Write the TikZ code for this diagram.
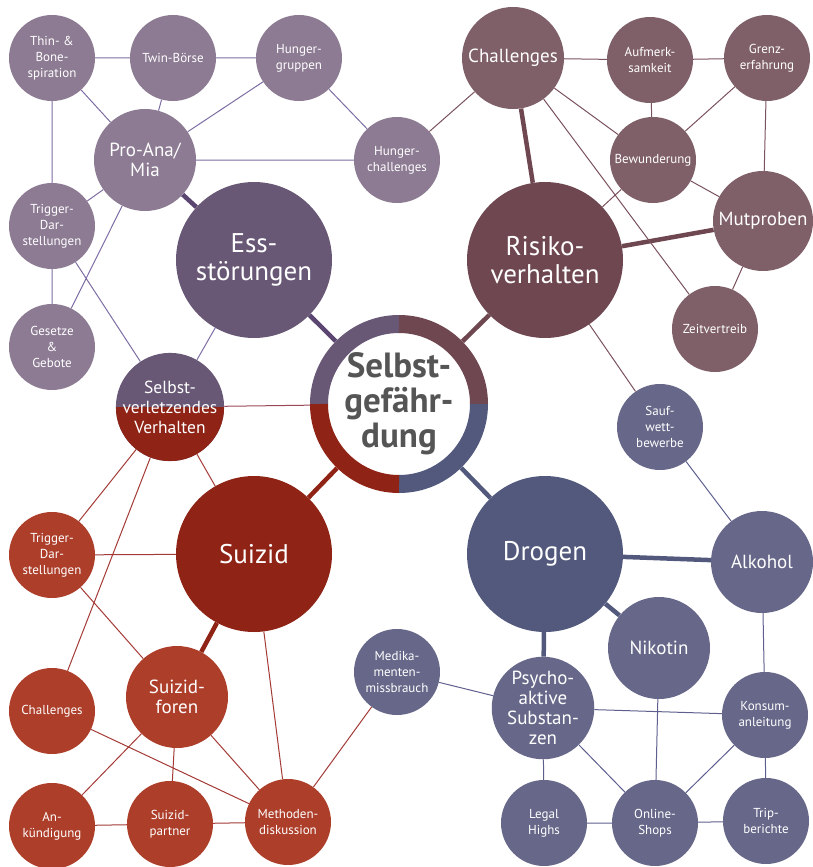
\documentclass[tikz,border=0pt]{standalone}
\usepackage{fontspec}
\setmainfont{PT Sans}
\usetikzlibrary{positioning}

\definecolor{essD}{HTML}{685876}
\definecolor{essL}{HTML}{8C7B93}
\definecolor{essE}{HTML}{7E6DA3}
\definecolor{essS}{HTML}{5A4670}
\definecolor{riskD}{HTML}{6F4750}
\definecolor{riskL}{HTML}{7F6068}
\definecolor{riskE}{HTML}{7A525C}
\definecolor{suiD}{HTML}{8E2316}
\definecolor{suiL}{HTML}{AD3E2A}
\definecolor{suiE}{HTML}{A33A36}
\definecolor{drugD}{HTML}{52597C}
\definecolor{drugL}{HTML}{676889}
\definecolor{drugE}{HTML}{5D5F8E}
\definecolor{coreT}{HTML}{555555}

\begin{document}
\begin{tikzpicture}[
  x=1pt, y=1pt,
  every node/.style={text=white, align=center, inner sep=0pt},
  hub/.style={circle, minimum size=156pt, font=\fontsize{27}{28}\selectfont},
  mid/.style={circle, minimum size=102pt, font=\fontsize{19}{20}\selectfont},
  leaf/.style={circle, minimum size=86pt, font=\fontsize{13}{16}\selectfont},
  link/.style={line width=1pt},
  spoke/.style={line width=4.5pt}
]
\useasboundingbox (0,0) rectangle (813,-867);

% centre
\node[circle, minimum size=178pt, fill=white, text=coreT,
  font=\bfseries\fontsize{35}{35}\selectfont] (core) at (399,-404) {Selbst-\\gefähr-\\dung};
\foreach \a/\c in {90/essD, 0/riskD, 270/drugD, 180/suiD}
  \draw[line width=18pt, \c] (core.center) ++(\a:80) arc[start angle=\a, delta angle=90, radius=80];

% hubs
\node[hub, fill=essD] (ess) at (254,-260) {Ess-\\störungen};
\node[hub, fill=riskD] (risk) at (545,-260) {Risiko-\\verhalten};
\node[hub, fill=suiD] (sui) at (254,-554) {Suizid};
\node[hub, fill=drugD] (drug) at (545,-554) {Drogen};

% Essstoerungen
\node[mid, fill=essL] (proana) at (145,-160) {Pro-Ana/\\Mia};
\node[leaf, fill=essL] (bone) at (52,-58) {Thin- \&\\Bone-\\spiration};
\node[leaf, fill=essL] (twin) at (173,-58) {Twin-Börse};
\node[leaf, fill=essL] (hgrp) at (299,-58) {Hunger-\\gruppen};
\node[leaf, fill=essL] (hchal) at (397,-160) {Hunger-\\challenges};
\node[leaf, fill=essL] (trigA) at (52,-226) {Trigger-\\Dar-\\stellungen};
\node[leaf, fill=essL] (law) at (52,-347) {Gesetze\\\&\\Gebote};
\node[mid, fill=essD, font=\fontsize{17.5}{20}\selectfont,
  path picture={\fill[suiD] (path picture bounding box.west) rectangle (path picture bounding box.south east);}]
  (svv) at (170,-407) {Selbst-\\verletzendes\\Verhalten};

% Risikoverhalten
\node[mid, fill=riskL] (chal) at (513,-58) {Challenges};
\node[leaf, fill=riskL] (aufm) at (650,-60) {Aufmerk-\\samkeit};
\node[leaf, fill=riskL] (grenz) at (767,-58) {Grenz-\\erfahrung};
\node[leaf, fill=riskL] (bew) at (653,-160) {Bewunderung};
\node[mid, fill=riskL, minimum size=100pt] (mut) at (763,-221) {Mutproben};
\node[leaf, fill=riskL] (zeit) at (715,-329) {Zeitvertreib};

% Suizid
\node[leaf, fill=suiL] (trigB) at (52,-555) {Trigger-\\Dar-\\stellungen};
\node[leaf, fill=suiL] (chalB) at (52,-711) {Challenges};
\node[mid, fill=suiL] (foren) at (177,-697) {Suizid-\\foren};
\node[leaf, fill=suiL] (ank) at (52,-826) {An-\\kündigung};
\node[leaf, fill=suiL] (partner) at (170,-824) {Suizid-\\partner};
\node[leaf, fill=suiL] (meth) at (288,-822) {Methoden-\\diskussion};

% Drogen
\node[leaf, fill=drugL] (sauf) at (660,-427) {Sauf-\\wett-\\bewerbe};
\node[mid, fill=drugL] (alk) at (762,-562) {Alkohol};
\node[mid, fill=drugL] (nik) at (659,-648) {Nikotin};
\node[mid, fill=drugL] (psy) at (543,-708) {Psycho-\\aktive\\Substan-\\zen};
\node[leaf, fill=drugL] (med) at (397,-672) {Medika-\\menten-\\missbrauch};
\node[leaf, fill=drugL] (kons) at (765,-715) {Konsum-\\anleitung};
\node[leaf, fill=drugL] (legal) at (544,-823) {Legal\\Highs};
\node[leaf, fill=drugL] (shops) at (655,-823) {Online-\\Shops};
\node[leaf, fill=drugL] (trip) at (766,-821) {Trip-\\berichte};

% spokes
\draw[spoke, essS] (core) -- (ess);
\draw[spoke, riskD] (core) -- (risk);
\draw[spoke, suiD] (core) -- (sui);
\draw[spoke, drugD] (core) -- (drug);
\draw[spoke, essS] (ess) -- (proana);
\draw[spoke, riskD] (risk) -- (chal);
\draw[spoke, riskD] (risk) -- (mut);
\draw[spoke, suiD] (sui) -- (foren);
\draw[spoke, drugD] (drug) -- (alk);
\draw[spoke, drugD] (drug) -- (nik);
\draw[spoke, drugD] (drug) -- (psy);

% links
\draw[link, essE] (bone) -- (twin) (twin) -- (hgrp) (bone) -- (proana)
  (twin) -- (proana) (hgrp) -- (proana) (hgrp) -- (hchal) (proana) -- (hchal)
  (bone) -- (trigA) (trigA) -- (proana) (trigA) -- (law) (proana) -- (law)
  (trigA) -- (svv) (ess) -- (svv);
\draw[link, riskE] (hchal) -- (chal) (chal) -- (aufm) (aufm) -- (grenz)
  (aufm) -- (bew) (grenz) -- (bew) (grenz) -- (mut) (chal) -- (bew)
  (chal) -- (zeit) (bew) -- (risk) (bew) -- (mut) (mut) -- (zeit)
  (risk) -- (sauf);
\draw[link, suiE!70!essE] (svv) -- (core);
\draw[link, suiE] (svv) -- (trigB) (svv) -- (chalB) (svv) -- (sui)
  (trigB) -- (sui) (trigB) -- (foren) (sui) -- (meth) (chalB) -- (meth)
  (foren) -- (ank) (foren) -- (partner) (foren) -- (meth) (ank) -- (partner)
  (partner) -- (meth) (meth) -- (med);
\draw[link, drugE] (sauf) -- (alk) (med) -- (psy) (psy) -- (kons)
  (psy) -- (legal) (psy) -- (shops) (nik) -- (shops) (alk) -- (kons)
  (kons) -- (shops) (kons) -- (trip) (legal) -- (shops) (shops) -- (trip);
\end{tikzpicture}
\end{document}
